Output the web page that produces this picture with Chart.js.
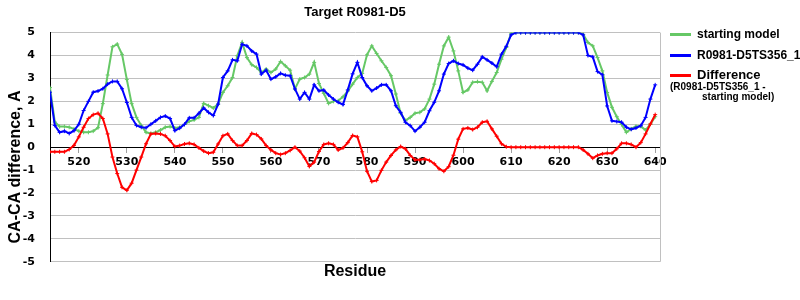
<!DOCTYPE html>
<html>
<head>
<meta charset="utf-8">
<title>Target R0981-D5</title>
<script src="https://cdn.jsdelivr.net/npm/chart.js@4.4.0/dist/chart.umd.min.js"></script>
<style>
  html, body { margin: 0; padding: 0; background: #fff; }
  #wrap { position: relative; width: 800px; height: 300px; overflow: hidden; }
  #legend { position: absolute; left: 0; top: 0; width: 800px; height: 300px; pointer-events: none;
            font-family: "Liberation Sans", Arial, sans-serif; font-weight: bold; color: #000; }
  .swatch { position: absolute; left: 670px; width: 21px; height: 3px; }
  .lbl { position: absolute; left: 697px; white-space: nowrap; line-height: 1; }
</style>
</head>
<body>
<div id="wrap">
  <canvas id="chart" width="800" height="300"></canvas>
  <div id="legend">
    <div class="swatch" style="top:33px; background:#66c866"></div>
    <div class="lbl" style="top:28px; font-size:12px">starting model</div>
    <div class="swatch" style="top:54px; background:#0000ff"></div>
    <div class="lbl" style="top:49px; font-size:12px">R0981-D5TS356_1</div>
    <div class="swatch" style="top:74px; background:#ff0000"></div>
    <div class="lbl" style="top:68px; font-size:13px">Difference</div>
    <div class="lbl" style="left:670px; top:82px; font-size:10px">(R0981-D5TS356_1 -</div>
    <div class="lbl" style="left:702px; top:92px; font-size:10px">starting model)</div>
  </div>
</div>
<script>
"use strict";

// ── Data ─────────────────────────────────────────────────────────────────────

const residues = [
  514, 515, 516, 517, 518, 519, 520, 521, 522, 523,
  524, 525, 526, 527, 528, 529, 530, 531, 532, 533,
  534, 535, 536, 537, 538, 539, 540, 541, 542, 543,
  544, 545, 546, 547, 548, 549, 550, 551, 552, 553,
  554, 555, 556, 557, 558, 559, 560, 561, 562, 563,
  564, 565, 566, 567, 568, 569, 570, 571, 572, 573,
  574, 575, 576, 577, 578, 579, 580, 581, 582, 583,
  584, 585, 586, 587, 588, 589, 590, 591, 592, 593,
  594, 595, 596, 597, 598, 599, 600, 601, 602, 603,
  604, 605, 606, 607, 608, 609, 610, 611, 612, 613,
  614, 615, 616, 617, 618, 619, 620, 621, 622, 623,
  624, 625, 626, 627, 628, 629, 630, 631, 632, 633,
  634, 635, 636, 637, 638, 639, 640
];

const startingModel = [
  2.6, 1.1, 0.9, 0.9, 0.87, 0.8, 0.7, 0.65, 0.65, 0.7,
  0.85, 1.9, 3.15, 4.38, 4.5, 4.05, 2.95, 1.9, 1.3, 0.95,
  0.65, 0.6, 0.65, 0.75, 0.87, 0.9, 0.84, 0.87, 0.99, 1.13,
  1.19, 1.3, 1.91, 1.81, 1.71, 1.88, 2.39, 2.68, 3.04, 3.99,
  4.57, 3.91, 3.6, 3.48, 3.26, 3.41, 3.26, 3.41, 3.74, 3.55,
  3.36, 2.54, 2.97, 3.04, 3.19, 3.7, 2.78, 2.35, 1.91, 2.0,
  2.03, 2.2, 2.45, 2.75, 3.04, 3.22, 4.03, 4.42, 4.09, 3.77,
  3.48, 3.12, 2.32, 1.48, 1.16, 1.3, 1.48, 1.52, 1.67, 2.1,
  2.75, 3.62, 4.42, 4.8, 4.2, 3.33, 2.39, 2.5, 2.83, 2.86,
  2.83, 2.46, 2.87, 3.26, 3.84, 4.35, 4.97, 5, 5, 5,
  5, 5, 5, 5, 5, 5, 5, 5, 5, 5,
  5, 4.93, 4.57, 4.42, 3.91, 3.33, 2.39, 1.74, 1.33, 0.99,
  0.65, 0.8, 0.91, 0.91, 0.75, 1.01, 1.33
];

const modelTS356 = [
  2.4, 0.95, 0.65, 0.7, 0.6, 0.72, 1.0, 1.6, 2.0, 2.4,
  2.45, 2.55, 2.75, 2.87, 2.87, 2.55, 1.95, 1.3, 0.95, 0.87,
  0.85, 1.0, 1.15, 1.3, 1.36, 1.25, 0.72, 0.83, 1.0, 1.28,
  1.28, 1.48, 1.71, 1.52, 1.38, 1.88, 3.04, 3.33, 3.81, 3.77,
  4.49, 4.42, 4.2, 4.06, 3.19, 3.36, 2.97, 3.07, 3.22, 3.14,
  3.12, 2.54, 2.1, 2.39, 2.1, 2.72, 2.46, 2.49, 2.28, 2.1,
  1.96, 1.86, 2.5, 3.2, 3.7, 3.04, 2.68, 2.46, 2.58, 2.72,
  2.72, 2.46, 1.81, 1.52, 1.09, 0.94, 0.7, 0.87, 1.09, 1.59,
  1.96, 2.46, 3.19, 3.65, 3.77, 3.65, 3.59, 3.45, 3.36, 3.62,
  3.94, 3.81, 3.67, 3.51, 4.06, 4.4, 4.9, 5, 5, 5,
  5, 5, 5, 5, 5, 5, 5, 5, 5, 5,
  5, 4.9, 4.0, 3.94, 3.3, 3.16, 1.8, 1.15, 1.12, 1.09,
  0.87, 0.78, 0.84, 0.94, 1.3, 2.1, 2.72
];

const difference = [
  -0.2, -0.2, -0.2, -0.2, -0.1, 0.08, 0.45, 0.87, 1.25, 1.42,
  1.48, 1.25, 0.58, -0.43, -1.15, -1.75, -1.88, -1.57, -1.0, -0.43,
  0.15, 0.58, 0.6, 0.58, 0.5, 0.29, 0.03, 0.07, 0.14, 0.17,
  0.12, -0.03, -0.17, -0.26, -0.22, 0.14, 0.5, 0.58, 0.29, 0.07,
  0.07, 0.29, 0.6, 0.55, 0.36, 0.07, -0.12, -0.26, -0.32, -0.26,
  -0.14, 0, -0.17, -0.46, -0.84, -0.65, -0.19, 0.12, 0.17, 0.12,
  -0.12, -0.03, 0.2, 0.51, 0.45, -0.2, -1.05, -1.5, -1.45, -1.01,
  -0.65, -0.36, -0.12, 0.03, -0.07, -0.36, -0.55, -0.55, -0.52, -0.58,
  -0.72, -0.94, -1.05, -0.85, -0.35, 0.35, 0.8, 0.84, 0.77, 0.87,
  1.09, 1.13, 0.8, 0.48, 0.15, 0.02, 0, 0, 0, 0,
  0, 0, 0, 0, 0, 0, 0, 0, 0, 0,
  0, -0.12, -0.29, -0.48, -0.36, -0.29, -0.26, -0.26, -0.07, 0.17,
  0.17, 0.12, 0, 0.2, 0.58, 1.01, 1.42
];

const xTicks = [520, 530, 540, 550, 560, 570, 580, 590, 600, 610, 620, 630, 640];

// ── Chart ────────────────────────────────────────────────────────────────────

const GREEN = "#66c866";
const BLUE = "#0000ff";
const RED = "#ff0000";

function series(label, values, color, order) {
  return {
    label,
    data: values,
    borderColor: color,
    backgroundColor: color,
    borderWidth: 2,
    tension: 0,
    pointStyle: "cross",
    pointRadius: 2,
    pointBorderWidth: 1,
    pointHoverRadius: 2,
    order,
  };
}

// gray frame line on the right edge of the plot
const rightFrame = {
  id: "rightFrame",
  beforeDatasetsDraw(chart) {
    const { ctx, chartArea } = chart;
    ctx.save();
    ctx.strokeStyle = "#c0c0c0";
    ctx.lineWidth = 1;
    ctx.beginPath();
    ctx.moveTo(Math.round(chartArea.right) + 0.5, chartArea.top);
    ctx.lineTo(Math.round(chartArea.right) + 0.5, chartArea.bottom);
    ctx.stroke();
    ctx.restore();
  },
};

// rotated y-axis title, sits a little below the plot centre like the original
const yTitle = {
  id: "yTitle",
  afterDraw(chart) {
    const { ctx } = chart;
    ctx.save();
    ctx.translate(16, 167);
    ctx.rotate(-Math.PI / 2);
    ctx.font = 'bold 16px "Liberation Sans", Arial, sans-serif';
    ctx.fillStyle = "#000";
    ctx.textAlign = "center";
    ctx.textBaseline = "middle";
    ctx.fillText("CA-CA difference, A", 0, 0);
    ctx.restore();
  },
};

Chart.defaults.font.family = '"Liberation Sans", Arial, sans-serif';
Chart.defaults.color = "#000";

new Chart(document.getElementById("chart"), {
  type: "line",
  data: {
    labels: residues,
    datasets: [
      series("starting model", startingModel, GREEN, 3),
      series("R0981-D5TS356_1", modelTS356, BLUE, 2),
      series("Difference (R0981-D5TS356_1 - starting model)", difference, RED, 1),
    ],
  },
  options: {
    responsive: false,
    animation: false,
    devicePixelRatio: 1,
    layout: { padding: { left: 0, right: 140, top: 0, bottom: 0 } },
    plugins: {
      legend: { display: false },
      tooltip: { enabled: false },
      title: {
        display: true,
        fullSize: false,
        text: "Target R0981-D5",
        font: { size: 13, weight: "bold" },
        padding: { top: 5, bottom: 12 },
      },
      subtitle: {
        display: true,
        fullSize: false,
        position: "bottom",
        text: "Residue",
        font: { size: 16, weight: "bold" },
        padding: { top: 0, bottom: 19 },
      },
    },
    scales: {
      x: {
        type: "linear",
        min: 514,
        max: 641,
        position: { y: 0 },
        afterBuildTicks: axis => { axis.ticks = xTicks.map(v => ({ value: v })); },
        ticks: {
          font: { family: '"DejaVu Sans", sans-serif', size: 11, weight: "bold" },
          padding: 3,
          maxRotation: 0,
          autoSkip: false,
        },
        grid: { drawOnChartArea: false, drawTicks: true, tickLength: 5, color: "#a0a0a0" },
        border: { display: true, color: "#000", width: 1 },
      },
      y: {
        min: -5,
        max: 5,
        afterFit: scale => { scale.width = 50; },
        ticks: {
          stepSize: 1,
          font: { family: '"DejaVu Sans", sans-serif', size: 11, weight: "bold" },
          padding: 15,
        },
        grid: { color: "#c0c0c0", drawTicks: false },
        border: { display: true, color: "#000", width: 1 },
      },
    },
  },
  plugins: [rightFrame, yTitle],
});
</script>
</body>
</html>
